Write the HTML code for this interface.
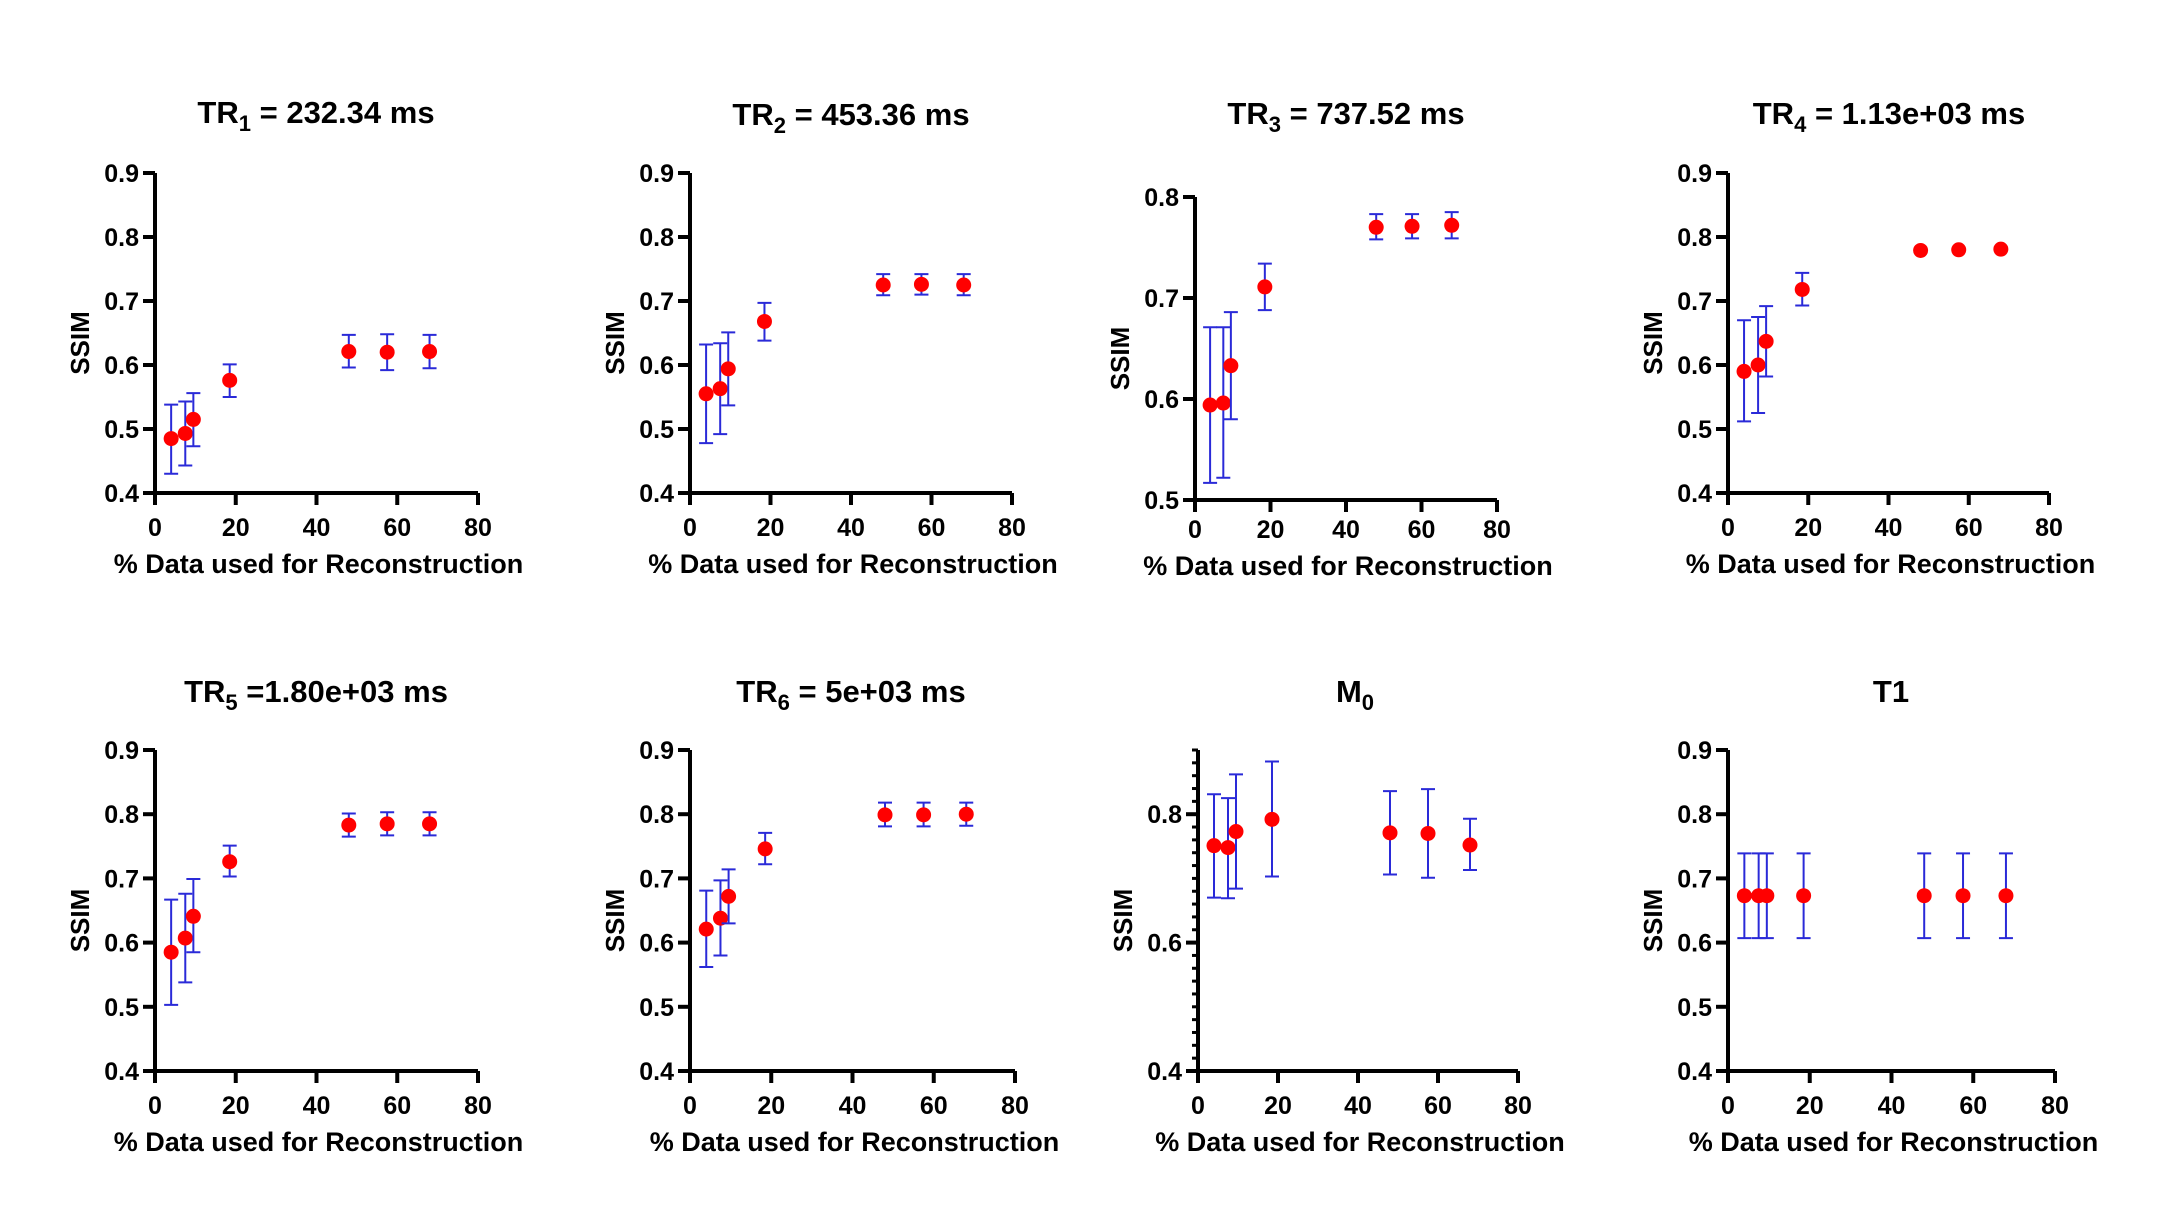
<!DOCTYPE html>
<html><head><meta charset="utf-8"><style>
html,body{margin:0;padding:0;background:#fff;}
svg{display:block;font-family:"Liberation Sans",Arial,sans-serif;font-weight:bold;}
</style></head><body>
<svg id="fig" width="2164" height="1222" viewBox="0 0 2164 1222" xmlns="http://www.w3.org/2000/svg"></svg>
<script>
const xVals = [4, 7.5, 9.5, 18.5, 48, 57.5, 68];
const titles = ["TR|1| = 232.34 ms","TR|2| = 453.36 ms","TR|3| = 737.52 ms","TR|4| = 1.13e+03 ms","TR|5| =1.80e+03 ms","TR|6| = 5e+03 ms","M|0|","T1"];
const p1Y = [0.485,0.493,0.515,0.576,0.621,0.620,0.621];
const p1Lo = [0.430,0.443,0.473,0.550,0.596,0.592,0.595];
const p1Hi = [0.538,0.543,0.556,0.601,0.647,0.648,0.647];
const p2Y = [0.555,0.563,0.594,0.668,0.725,0.726,0.725];
const p2Lo = [0.478,0.492,0.537,0.638,0.709,0.710,0.709];
const p2Hi = [0.632,0.634,0.651,0.697,0.742,0.742,0.742];
const p3Y = [0.594,0.596,0.633,0.711,0.770,0.771,0.772];
const p3Lo = [0.517,0.522,0.580,0.688,0.758,0.759,0.759];
const p3Hi = [0.671,0.671,0.686,0.734,0.783,0.783,0.785];
const p4Y = [0.590,0.600,0.637,0.718,0.779,0.780,0.781];
const p4Lo = [0.512,0.525,0.582,0.693,0.779,0.780,0.781];
const p4Hi = [0.670,0.675,0.692,0.744,0.779,0.780,0.781];
const p5Y = [0.585,0.607,0.641,0.726,0.783,0.785,0.785];
const p5Lo = [0.503,0.538,0.585,0.703,0.765,0.767,0.767];
const p5Hi = [0.667,0.676,0.699,0.751,0.801,0.803,0.803];
const p6Y = [0.621,0.638,0.672,0.746,0.799,0.799,0.800];
const p6Lo = [0.562,0.580,0.630,0.722,0.781,0.781,0.782];
const p6Hi = [0.681,0.697,0.714,0.771,0.818,0.818,0.818];
const p7Y = [0.751,0.748,0.773,0.792,0.771,0.770,0.752];
const p7Lo = [0.670,0.669,0.684,0.703,0.706,0.701,0.713];
const p7Hi = [0.831,0.825,0.862,0.882,0.836,0.839,0.793];
const p8Y = [0.673,0.673,0.673,0.673,0.673,0.673,0.673];
const p8Lo = [0.607,0.607,0.607,0.607,0.607,0.607,0.607];
const p8Hi = [0.739,0.739,0.739,0.739,0.739,0.739,0.739];
const xTicks = [0,20,40,60,80];
const yTicksA = [0.4,0.5,0.6,0.7,0.8,0.9];
const yTicksB = [0.5,0.6,0.7,0.8];
const yTicksC = [0.4,0.6,0.8];

const NS="http://www.w3.org/2000/svg";
const svg=document.getElementById('fig');
function mk(tag,attrs,parent){const e=document.createElementNS(NS,tag);for(const k in attrs)e.setAttribute(k,attrs[k]);(parent||svg).appendChild(e);return e;}

const panels=[
 {x0:155,x1:478,yB:493,yT:173,ymin:0.4,ymax:0.9,ticks:yTicksA,Y:p1Y,Lo:p1Lo,Hi:p1Hi,tx:316,ty:123,lo:0},
 {x0:690,x1:1012,yB:493,yT:173,ymin:0.4,ymax:0.9,ticks:yTicksA,Y:p2Y,Lo:p2Lo,Hi:p2Hi,tx:851,ty:125,lo:0},
 {x0:1195,x1:1497,yB:500,yT:197,ymin:0.5,ymax:0.8,ticks:yTicksB,Y:p3Y,Lo:p3Lo,Hi:p3Hi,tx:1346,ty:124,lo:-5},
 {x0:1728,x1:2049,yB:493,yT:173,ymin:0.4,ymax:0.9,ticks:yTicksA,Y:p4Y,Lo:p4Lo,Hi:p4Hi,tx:1889,ty:124,lo:0},
 {x0:155,x1:478,yB:1071,yT:750,ymin:0.4,ymax:0.9,ticks:yTicksA,Y:p5Y,Lo:p5Lo,Hi:p5Hi,tx:316,ty:702,lo:0},
 {x0:690,x1:1015,yB:1071,yT:750,ymin:0.4,ymax:0.9,ticks:yTicksA,Y:p6Y,Lo:p6Lo,Hi:p6Hi,tx:851,ty:702,lo:0},
 {x0:1198,x1:1518,yB:1071,yT:750,ymin:0.4,ymax:0.9,ticks:yTicksC,minor:true,Y:p7Y,Lo:p7Lo,Hi:p7Hi,tx:1355,ty:702,lo:0},
 {x0:1728,x1:2055,yB:1071,yT:750,ymin:0.4,ymax:0.9,ticks:yTicksA,Y:p8Y,Lo:p8Lo,Hi:p8Hi,tx:1891,ty:702,lo:0}
];

panels.forEach((p,i)=>{
  const g=mk('g',{});
  
  
  const sx=v=>p.x0+(v-0)/80*(p.x1-p.x0);
  const sy=v=>p.yB-(v-p.ymin)/(p.ymax-p.ymin)*(p.yB-p.yT);
  const parts=titles[i].split('|');
  const t=mk('text',{x:p.tx,y:p.ty,'text-anchor':'middle','font-size':31},g);
  
  
  const s1=mk('tspan',{},t);s1.textContent=parts[0];
  const s2=mk('tspan',{dy:8,'font-size':22},t);s2.textContent=parts[1];
  const s3=mk('tspan',{dy:-8},t);s3.textContent=parts[2];
  const ax=mk('path',{d:`M${p.x0},${p.yT} V${p.yB} H${p.x1}`,stroke:'#000','stroke-width':4,fill:'none'},g);
  
  
  xTicks.forEach(v=>{
    mk('line',{x1:sx(v),x2:sx(v),y1:p.yB,y2:p.yB+12,stroke:'#000','stroke-width':4},g);
    const tl=mk('text',{x:sx(v),y:p.yB+43+p.lo,'text-anchor':'middle','font-size':25},g);
    
    
    tl.textContent=v;
  });
  if(p.minor){
    for(let k=0;k<=25;k++){const v=0.4+k*0.02;mk('line',{x1:p.x0-6,x2:p.x0,y1:sy(v),y2:sy(v),stroke:'#000','stroke-width':3},g);}
  }
  p.ticks.forEach(v=>{
    mk('line',{x1:p.x0-12,x2:p.x0,y1:sy(v),y2:sy(v),stroke:'#000','stroke-width':4},g);
    const tl=mk('text',{x:p.x0-16,y:sy(v)+9,'text-anchor':'end','font-size':25},g);
    
    
    tl.textContent=v.toFixed(1);
  });
  const xl=mk('text',{x:(p.x0+p.x1)/2+2,y:p.yB+80+p.lo,'text-anchor':'middle','font-size':27},g);
  
  
  xl.textContent='% Data used for Reconstruction';
  const yc=(p.yB+p.yT)/2+10;const yx=p.x0-66;
  const yl=mk('text',{x:yx,y:yc,'text-anchor':'middle','font-size':26,transform:`rotate(-90 ${yx} ${yc})`},g);
  
  
  yl.textContent='SSIM';
  xVals.forEach((xv,j)=>{
    const cx=sx(xv);
    if(p.Hi[j]-p.Lo[j]>0.001){
      const eb=mk('path',{d:`M${cx},${sy(p.Lo[j])} V${sy(p.Hi[j])} M${cx-7},${sy(p.Lo[j])} H${cx+7} M${cx-7},${sy(p.Hi[j])} H${cx+7}`,stroke:'#2a2ad8','stroke-width':2,fill:'none'},g);
      
      
    }
    const c=mk('circle',{cx:cx,cy:sy(p.Y[j]),r:7.5,fill:'#f00'},g);
    
    
  });
});
</script>
</body></html>
